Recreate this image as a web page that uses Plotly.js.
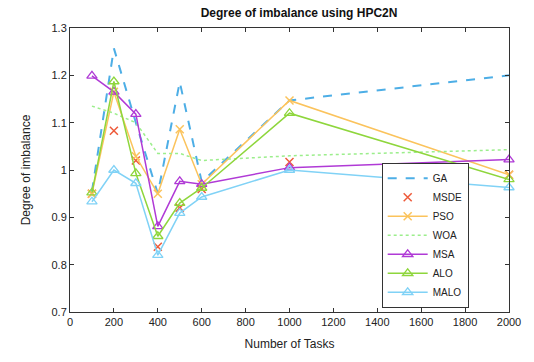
<!DOCTYPE html>
<html><head><meta charset="utf-8">
<script src="https://cdn.plot.ly/plotly-3.0.1.min.js"></script>
<style>html,body{margin:0;padding:0;background:#fff}#c{width:534px;height:362px}</style>
</head><body><div id="c"></div>
<script>
const tasks = [100, 200, 300, 400, 500, 600, 1000, 2000];
const GA   = [0.955, 1.257, 1.10, 0.95, 1.186, 0.975, 1.147, 1.20];
const MSDE = [0.95, 1.083, 1.02, 0.838, 0.92, 0.96, 1.017, 0.99];
const PSO  = [0.95, 1.165, 1.029, 0.95, 1.086, 0.97, 1.147, 0.99];
const WOA  = [1.135, 1.12, 1.10, 1.035, 1.035, 1.02, 1.03, 1.043];
const MSA  = [1.199, 1.165, 1.118, 0.881, 0.976, 0.97, 1.005, 1.022];
const ALO  = [0.952, 1.187, 0.993, 0.86, 0.93, 0.962, 1.12, 0.98];
const MALO = [0.933, 1.0, 0.972, 0.82, 0.909, 0.943, 1.0, 0.963];

const tri = c => ({symbol:'triangle-up-open', size:9, color:c, line:{color:c, width:1.3}});
const xm = c => ({symbol:'x-thin', size:8, color:c, line:{color:c, width:1.5}});
const traces = [
 {name:'GA', x:tasks, y:GA, mode:'lines', line:{color:'#4daee6', width:2, dash:'dash'}},
 {name:'MSDE', x:tasks, y:MSDE, mode:'markers', marker:xm('#ee5a3a')},
 {name:'PSO', x:tasks, y:PSO, mode:'lines+markers', line:{color:'#fbc35c', width:1.5}, marker:xm('#fbc35c')},
 {name:'WOA', x:tasks, y:WOA, mode:'lines', line:{color:'#9cee8c', width:1.5, dash:'dot'}},
 {name:'MSA', x:tasks, y:MSA, mode:'lines+markers', line:{color:'#b03ad6', width:1.5}, marker:tri('#b03ad6')},
 {name:'ALO', x:tasks, y:ALO, mode:'lines+markers', line:{color:'#8ed63c', width:1.5}, marker:tri('#8ed63c')},
 {name:'MALO', x:tasks, y:MALO, mode:'lines+markers', line:{color:'#80d2f6', width:1.5}, marker:tri('#80d2f6')}
].map(t => Object.assign(t, {cliponaxis:false}));
const ax = {
  showgrid:false, zeroline:false, showline:true, linecolor:'#333', linewidth:1,
  mirror:'allticks', ticks:'inside', ticklen:4, tickcolor:'#333',
  tickfont:{family:'Liberation Sans, Arial, sans-serif', size:11, color:'#222'}
};
const layout = {
  width:534, height:362, paper_bgcolor:'#fff', plot_bgcolor:'#fff',
  margin:{l:70, r:25, t:28, b:50},
  font:{family:'Liberation Sans, Arial, sans-serif', color:'#222'},
  title:{text:'<b>Degree of imbalance using HPC2N</b>', x:0.56, xanchor:'center', y:0.975, yanchor:'top', font:{size:12, color:'#111'}},
  xaxis:Object.assign({}, ax, {range:[0,2000], dtick:200, tick0:0,
    title:{text:'Number of Tasks', font:{size:12}, standoff:12}}),
  yaxis:Object.assign({}, ax, {range:[0.7,1.3], dtick:0.1, tick0:0.7,
    title:{text:'Degree of imbalance', font:{size:12}, standoff:18}}),
  showlegend:true,
  legend:{x:0.71, y:0.015, xanchor:'left', yanchor:'bottom', bgcolor:'#fff', bordercolor:'#333', borderwidth:1,
    font:{size:10, color:'#222'}, tracegroupgap:0, itemwidth:40}
};
Plotly.newPlot('c', traces, layout, {displayModeBar:false, staticPlot:true});
</script></body></html>
